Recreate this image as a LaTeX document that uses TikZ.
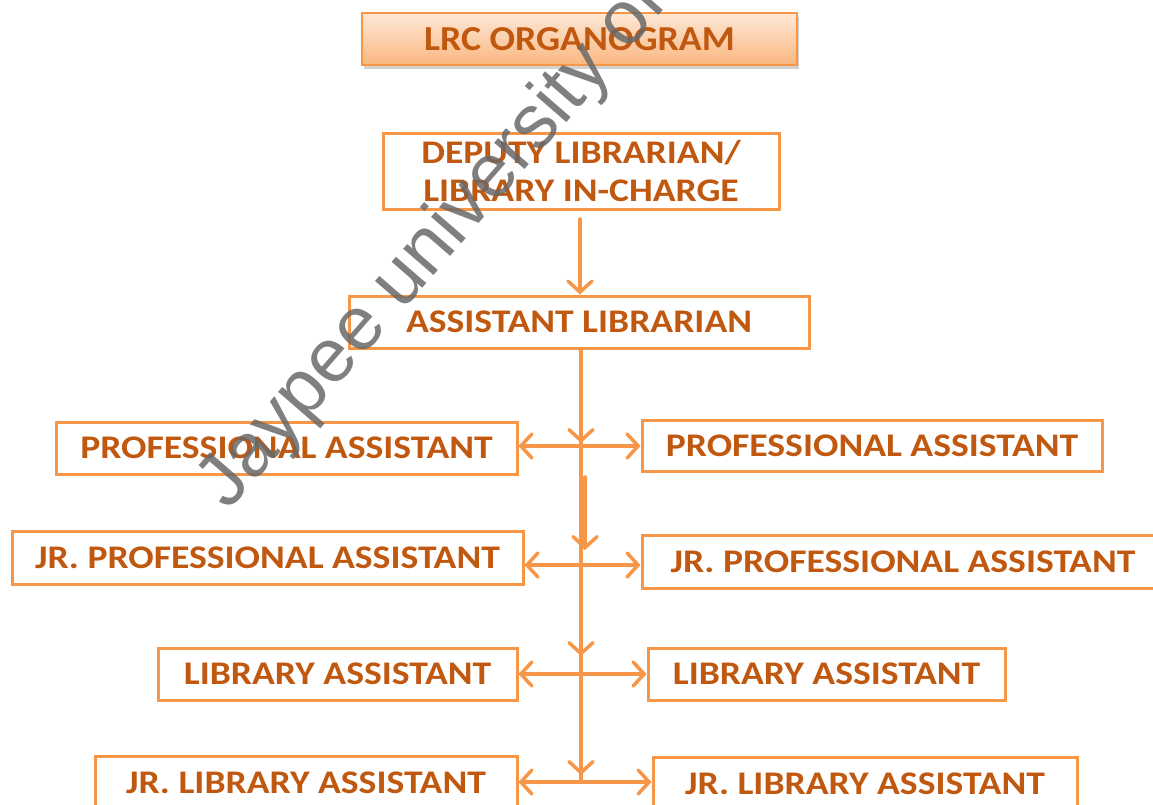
\documentclass[tikz,border=0pt]{standalone}
\usepackage{fontspec}
\setmainfont{Carlito}
\newfontfamily\wmfont{Liberation Sans}
\usetikzlibrary{arrows.meta,shadows}
\definecolor{boxline}{RGB}{247,150,70}
\definecolor{txt}{RGB}{192,88,16}
\definecolor{ttop}{RGB}{253,232,214}
\definecolor{tbot}{RGB}{250,183,128}
\definecolor{wm}{RGB}{105,105,105}
\newcommand\lbl[1]{\scalebox{1.14}[1]{#1}}
\newcommand\tlbl[1]{\scalebox{1.08}[1]{#1}}
\tikzset{
  orgbox/.style={draw=boxline, line width=3pt, fill=white, inner sep=0pt,
    text=txt, font=\fontsize{33}{38}\selectfont\bfseries, align=center},
  titlebox/.style={orgbox, line width=1.5pt, top color=ttop, bottom color=tbot,
    font=\fontsize{35}{40}\selectfont\bfseries,
    drop shadow={opacity=0.35, shadow xshift=2pt, shadow yshift=-4pt}},
  conn/.style={draw=boxline, line width=3.5pt, line cap=round},
  tip/.style={-{Straight Barb[length=11pt,width=24pt,line cap=round]}},
  tips/.style={{Straight Barb[length=11pt,width=24pt,line cap=round]}-{Straight Barb[length=11pt,width=24pt,line cap=round]}}
}
\begin{document}
\begin{tikzpicture}[x=1pt,y=-1pt]
\useasboundingbox (0,0) rectangle (1153,804);
\fill[white] (0,0) rectangle (1153,804);
% boxes
\node[titlebox, minimum width=435pt, minimum height=52pt] (title) at (579.5,39) {\tlbl{LRC ORGANOGRAM}};
\node[orgbox, minimum width=396pt, minimum height=76pt] (dep) at (581,171) {\lbl{DEPUTY LIBRARIAN/}\\\lbl{LIBRARY IN-CHARGE}};
\node[orgbox, minimum width=460pt, minimum height=52pt] (al) at (579,322) {\lbl{ASSISTANT LIBRARIAN}};
\node[orgbox, minimum width=461pt, minimum height=52pt] (pal) at (286.5,448) {\lbl{PROFESSIONAL ASSISTANT}};
\node[orgbox, minimum width=460pt, minimum height=51pt] (par) at (872,445.5) {\lbl{PROFESSIONAL ASSISTANT}};
\node[orgbox, minimum width=511pt, minimum height=53pt] (jpal) at (267.5,557.5) {\lbl{JR. PROFESSIONAL ASSISTANT}};
\node[orgbox, minimum width=522pt, minimum height=53pt] (jpar) at (903,561.5) {\lbl{JR. PROFESSIONAL ASSISTANT}};
\node[orgbox, minimum width=359pt, minimum height=52pt] (lal) at (337.5,674) {\lbl{LIBRARY ASSISTANT}};
\node[orgbox, minimum width=357pt, minimum height=52pt] (lar) at (826.5,674) {\lbl{LIBRARY ASSISTANT}};
\node[orgbox, minimum width=422pt, minimum height=54pt] (jlal) at (306,783) {\lbl{JR. LIBRARY ASSISTANT}};
\node[orgbox, minimum width=424pt, minimum height=54pt] (jlar) at (865,784) {\lbl{JR. LIBRARY ASSISTANT}};
% junction coordinates
\coordinate (d0) at (580,219);
\coordinate (j1) at (581,446);
\coordinate (j2) at (581,565);
\coordinate (j3) at (581,674);
\coordinate (j4) at (581,782);
\coordinate (s1) at (585,477);
\coordinate (s2) at (585,550);
\coordinate (t3) at (581,600);
\coordinate (t4) at (581,710);
% connectors
\draw[conn, tip] (d0) -- (al.north -| d0);
\draw[conn] (al.south -| j1) -- (j4);
\draw[conn, tip] (al.south -| j1) -- ([yshift=3pt]j1);
\draw[conn, tip] (s1) -- (s2);
\draw[conn, tip] (t3) -- ([yshift=18pt]j3);
\draw[conn, tip] (t4) -- ([yshift=7pt]j4);
\draw[conn, tips] (pal.east |- j1) -- (par.west |- j1);
\draw[conn, tips] (jpal.east |- j2) -- (jpar.west |- j2);
\draw[conn, tips] (lal.east |- j3) -- (lar.west |- j3);
\draw[conn, tips] (jlal.east |- j4) -- (jlar.west |- j4);
% watermark
\node[text=wm, opacity=0.85, font=\wmfont\fontsize{76}{80}\selectfont, anchor=base west, rotate=49, inner sep=0pt] (wmk) at (228,512) {Jaypee university of};
\end{tikzpicture}
\end{document}
